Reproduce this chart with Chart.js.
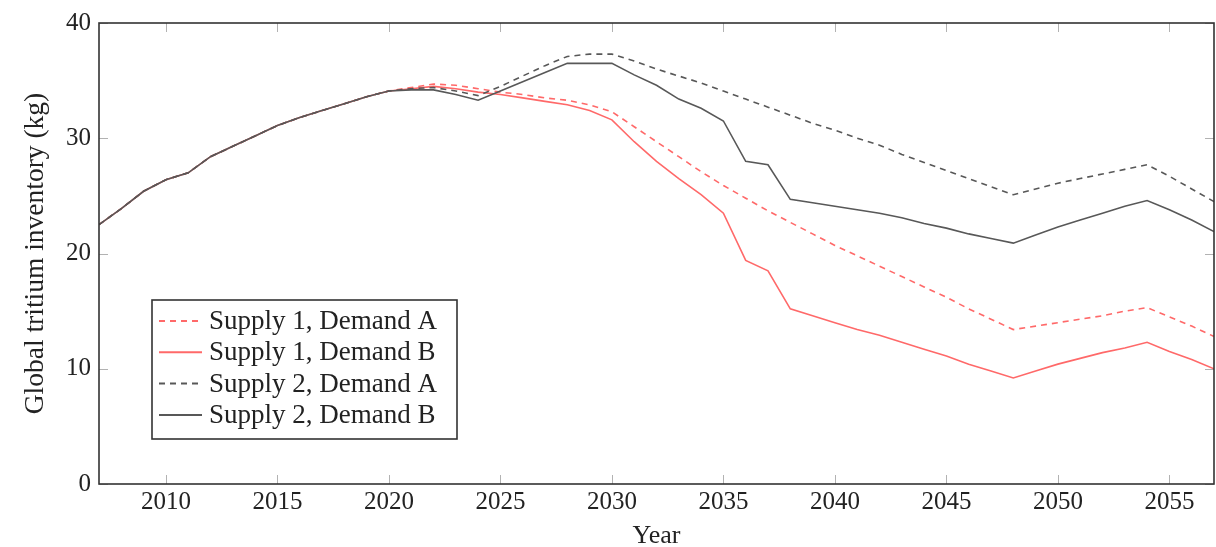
<!DOCTYPE html>
<html><head><meta charset="utf-8">
<script src="https://cdn.jsdelivr.net/npm/chart.js@4.4.1/dist/chart.umd.min.js"></script>
<style>html,body{margin:0;padding:0;background:#fff;}#wrap{width:1216px;height:547px;}</style>
</head><body><div id="wrap"><canvas id="c" width="1216" height="547"></canvas></div>
<script>
const years = [];
for (let y = 2007; y <= 2057; y++) years.push(y);

const supply1DemandA = [22.5,23.9,25.4,26.4,27.0,28.4,29.3,30.2,31.1,31.8,32.4,33.0,33.6,34.1,34.4,
  34.7,34.6,34.3,34.0,33.8,33.5,33.3,32.9,32.3,
  31.0,29.7,28.4,27.1,25.9,24.8,23.7,22.7,21.7,20.7,
  19.8,18.9,18.0,17.1,16.2,15.2,14.3,13.4,13.7,14.0,
  14.3,14.6,15.0,15.3,14.5,13.7,12.8];
const supply1DemandB = [22.5,23.9,25.4,26.4,27.0,28.4,29.3,30.2,31.1,31.8,32.4,33.0,33.6,34.1,34.3,
  34.5,34.3,34.0,33.8,33.5,33.2,32.9,32.4,31.6,
  29.7,28.0,26.5,25.1,23.5,19.4,18.5,15.2,14.6,14.0,
  13.4,12.9,12.3,11.7,11.1,10.4,9.8,9.2,9.8,10.4,
  10.9,11.4,11.8,12.3,11.5,10.8,10.0];
const supply2DemandA = [22.5,23.9,25.4,26.4,27.0,28.4,29.3,30.2,31.1,31.8,32.4,33.0,33.6,34.1,34.3,
  34.4,34.1,33.7,34.5,35.4,36.3,37.1,37.3,37.3,
  36.7,36.0,35.4,34.8,34.1,33.4,32.7,32.0,31.3,30.7,
  30.0,29.4,28.6,27.9,27.2,26.5,25.8,25.1,25.6,26.1,
  26.5,26.9,27.3,27.7,26.7,25.6,24.5];
const supply2DemandB = [22.5,23.9,25.4,26.4,27.0,28.4,29.3,30.2,31.1,31.8,32.4,33.0,33.6,34.1,34.2,
  34.2,33.8,33.3,34.1,34.9,35.7,36.5,36.5,36.5,
  35.5,34.6,33.4,32.6,31.5,28.0,27.7,24.7,24.4,24.1,
  23.8,23.5,23.1,22.6,22.2,21.7,21.3,20.9,21.6,22.3,
  22.9,23.5,24.1,24.6,23.8,22.9,21.9];

const seriesNames = ['Supply 1, Demand A','Supply 1, Demand B','Supply 2, Demand A','Supply 2, Demand B'];
const xTickValues = [2010,2015,2020,2025,2030,2035,2040,2045,2050,2055];
const yTickValues = [0,10,20,30,40];
const xTitle = 'Year';
const yTitle = 'Global tritium inventory (kg)';

const FONT = "'Liberation Serif', 'Times New Roman', serif";
const RED = 'rgb(255,105,105)';
const GRAY = 'rgb(88,88,88)';

function pts(vals){ return years.map((x,i)=>({x:x, y:vals[i]})); }

const styles = [
  {color: RED, dash: [6,5], order: 4},
  {color: RED, dash: [], order: 3},
  {color: GRAY, dash: [6,5], order: 2},
  {color: GRAY, dash: [], order: 1}
];
const seriesValues = [supply1DemandA, supply1DemandB, supply2DemandA, supply2DemandB];

const datasets = seriesValues.map((v,i)=>({
  label: seriesNames[i],
  data: pts(v),
  borderColor: styles[i].color,
  backgroundColor: styles[i].color,
  borderDash: styles[i].dash,
  borderWidth: 1.6,
  pointRadius: 0,
  tension: 0,
  fill: false,
  order: styles[i].order
}));

const framePlugin = {
  id: 'frame',
  afterDatasetsDraw(chart){
    const ctx = chart.ctx, a = chart.chartArea;
    const xs = chart.scales.x, ys = chart.scales.y;
    ctx.save();
    ctx.strokeStyle = 'rgba(170,170,170,0.9)';
    ctx.lineWidth = 1;
    ctx.beginPath();
    xTickValues.forEach(v=>{
      const px = Math.round(xs.getPixelForValue(v)) + 0.5;
      ctx.moveTo(px, a.bottom); ctx.lineTo(px, a.bottom - 9);
      ctx.moveTo(px, a.top); ctx.lineTo(px, a.top + 9);
    });
    yTickValues.forEach(v=>{
      const py = Math.round(ys.getPixelForValue(v)) + 0.5;
      ctx.moveTo(a.left, py); ctx.lineTo(a.left + 9, py);
      ctx.moveTo(a.right, py); ctx.lineTo(a.right - 9, py);
    });
    ctx.stroke();
    ctx.strokeStyle = '#333';
    ctx.lineWidth = 1.6;
    ctx.strokeRect(a.left, a.top, a.right - a.left, a.bottom - a.top);
    const bx = a.left + 53, by = a.top + 277, bw = 305, bh = 139;
    ctx.fillStyle = '#fff';
    ctx.fillRect(bx, by, bw, bh);
    ctx.strokeStyle = '#333';
    ctx.lineWidth = 1.6;
    ctx.strokeRect(bx, by, bw, bh);
    ctx.font = '27px ' + FONT;
    ctx.textBaseline = 'middle';
    ctx.textAlign = 'left';
    chart.data.datasets.forEach((ds,i)=>{
      const cy = by + 21 + i * 31.3;
      ctx.strokeStyle = ds.borderColor;
      ctx.lineWidth = 2;
      ctx.setLineDash(ds.borderDash);
      ctx.beginPath();
      ctx.moveTo(bx + 7, cy); ctx.lineTo(bx + 50, cy);
      ctx.stroke();
      ctx.setLineDash([]);
      ctx.fillStyle = '#222';
      ctx.fillText(ds.label, bx + 57, cy + 1);
    });
    ctx.restore();
  }
};

new Chart(document.getElementById('c'), {
  type: 'line',
  data: { datasets },
  options: {
    responsive: false,
    animation: false,
    devicePixelRatio: 1,
    layout: { padding: { top: 20, right: 2, left: 0, bottom: 0 } },
    plugins: { legend: { display: false }, tooltip: { enabled: false } },
    scales: {
      x: {
        type: 'linear', min: 2007, max: 2057,
        afterBuildTicks: s => { s.ticks = xTickValues.map(v=>({value:v})); },
        afterFit: s => { s.height = 63; },
        grid: { display: false, drawTicks: false },
        border: { display: false },
        ticks: { padding: 3, color: '#222', font: { family: FONT, size: 25 }, callback: v => String(v), maxRotation: 0, autoSkip: false },
        title: { display: true, text: xTitle, color: '#222', font: { family: FONT, size: 26, lineHeight: 0.8 }, padding: 0 }
      },
      y: {
        type: 'linear', min: 0, max: 40,
        afterBuildTicks: s => { s.ticks = yTickValues.map(v=>({value:v})); },
        afterFit: s => { s.width = 99; },
        grid: { display: false, drawTicks: false },
        border: { display: false },
        ticks: { padding: 8, color: '#222', font: { family: FONT, size: 25 }, callback: v => String(v) },
        title: { display: true, text: yTitle, color: '#222', font: { family: FONT, size: 27.5, lineHeight: 1.2 }, padding: { top: 19, bottom: 0 } }
      }
    }
  },
  plugins: [framePlugin]
});
</script></body></html>
